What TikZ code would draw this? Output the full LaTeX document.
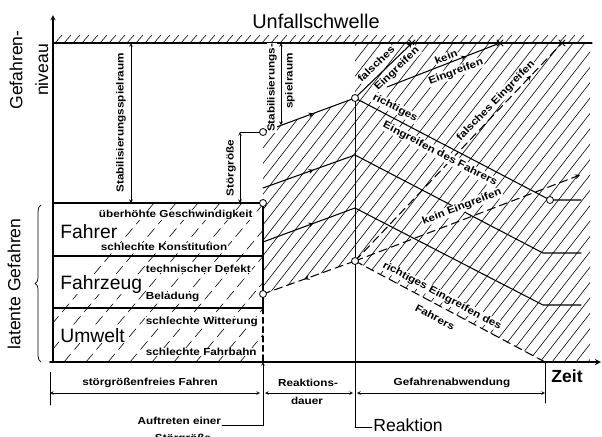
\documentclass[tikz,border=0pt]{standalone}
\usepackage{fontspec}
\setmainfont{Liberation Sans}
\newfontfamily\lblfont[FakeStretch=1.15]{Liberation Sans}
\newcommand\bigfont{\fontsize{16.5}{22}\selectfont}
\newcommand\midfont{\fontsize{15}{22}\selectfont}
\usetikzlibrary{decorations.markings,decorations.pathreplacing}
\begin{document}
\begin{tikzpicture}[x=0.03cm,y=-0.03cm,>=stealth,line join=round,line cap=round,
  lbl/.style={font=\lblfont\bfseries\fontsize{8.7}{10}\selectfont,inner sep=.6pt},
  bigtext/.style={font=\bigfont,inner sep=1pt},
  midtext/.style={font=\midfont,inner sep=1pt},
  bg/.style={fill=white},
  hatch/.style={line width=.5pt},
  boxhatch/.style={line width=.5pt,dash pattern=on 9pt off 5pt},
  curve/.style={line width=.9pt},
  dashedcurve/.style={line width=.9pt,dash pattern=on 7pt off 4pt},
  knot/.style={circle,draw,line width=.7pt,fill=white,inner sep=0pt,minimum size=2.1mm},
  midarrow/.style={postaction={decorate},decoration={markings,mark=at position #1 with {\arrow{stealth}}}},
  midarrow/.default=.55]
\useasboundingbox (0,0) rectangle (602,436);
% points
\coordinate (O) at (53,362);
\coordinate (ya) at (53,15);
\coordinate (xs) at (50,362);
\coordinate (xa) at (601,362);
\coordinate (S0) at (263,203);
\coordinate (S1) at (263,132);
\coordinate (L2a) at (263,188);
\coordinate (L3a) at (263,242);
\coordinate (S3) at (263,294);
\coordinate (T0) at (263,362);
\coordinate (R1) at (355,98);
\coordinate (R2) at (355,155);
\coordinate (R3) at (355,208);
\coordinate (R4) at (355,261);
\coordinate (X1) at (412,43);
\coordinate (X2) at (500,43);
\coordinate (X3) at (562,43);
\coordinate (K0) at (387,87);
\coordinate (K1) at (580,175);
\coordinate (E1) at (550,200);
\coordinate (E1r) at (581,200);
\coordinate (E2) at (543,253);
\coordinate (E2r) at (581,253);
\coordinate (E3) at (543,305);
\coordinate (E3r) at (581,305);
\coordinate (G) at (545,362);
% hatching
\begin{scope}
\clip (S1) -- (R1) -- (355,43) -- (590,43) -- (590,362) -- (G) -- (R4) -- (S3) -- cycle;
\foreach \c in {0,12,...,612} \draw[hatch] (\c,362) -- (\c+249,43);
\end{scope}
\begin{scope}
\clip (53,203) rectangle (263,362);
\foreach \c in {20,42,...,280} \draw[boxhatch] (\c,362) -- (\c+134,203);
\end{scope}
\foreach \t in {55,64,...,585} \draw[hatch] (\t,43) -- (\t+7,35);
% axes and threshold
\draw[line width=1.1pt] (53,43) -- (592,43);
\draw[->,line width=1pt] (O) -- (ya);
\draw[->,line width=1.3pt] (xs) -- (xa);
% latent dangers box
\draw[line width=1pt] (O) |- (S0) -- (263,308);
\draw[line width=1pt] (53,256) -- (263,256) (53,308) -- (263,308);
\draw[line width=.9pt,dash pattern=on 5pt off 3pt] (263,308) -- (T0);
% margins
\draw[<->,thin] (131,43) -- (131,203);
\draw[<->,thin] (240,132) -- (240,203);
\draw[thin] (240,132) -- (S1);
\draw[<->,thin] (281,43) -- (281,125);
% lines up to the reaction
\draw[curve,midarrow] (S1) -- (R1);
\draw[curve,midarrow] (L2a) -- (R2);
\draw[curve,midarrow] (L3a) -- (R3);
\draw[dashedcurve,midarrow=.55] (R4) -- (S3);
\draw[line width=.8pt] (R1) -- (355,427);
% after the reaction
\draw[curve,->] (R1) -- (X1);
\draw[curve,midarrow=.7] (K0) -- (X2);
\draw[dashedcurve,midarrow=.85] (R4) -- (X3);
\draw[dashedcurve,->] (R4) -- (K1);
\draw[curve] (R1) -- (E1) -- (E1r);
\draw[curve] (R2) -- (E2) -- (E2r);
\draw[curve] (R3) -- (E3) -- (E3r);
\draw[dashedcurve] (R4) -- (G);
\foreach \p in {X1,X2,X3} \draw[line width=.8pt] (\p) +(-3,-3) -- +(3,3) +(-3,3) -- +(3,-3);
% brace
\draw[decorate,decoration={brace,amplitude=5pt},line width=.6pt] (41,362) -- (41,205);
% texts
\node[font=\fontsize{17}{20}\selectfont,inner sep=1pt] (unf) at (316,21) {Unfallschwelle};
\node[midtext,rotate=90,align=center] (niv) at (29,70) {Gefahren-\\niveau};
\node[midtext,rotate=90] (lat) at (14,284) {latente Gefahren};
\node[bigtext,bg,anchor=base west] (fahrer) at (59,238) {Fahrer};
\node[bigtext,bg,anchor=base west] (fzg) at (59,289) {Fahrzeug};
\node[bigtext,bg,anchor=base west] (umw) at (59,342) {Umwelt};
\node[lbl,bg,anchor=west] (ueb) at (98,215) {überhöhte Geschwindigkeit};
\node[lbl,bg,anchor=west] (kon) at (100,247) {schlechte Konstitution};
\node[lbl,bg,anchor=west] (def) at (145,269) {technischer Defekt};
\node[lbl,bg,anchor=west] (bel) at (145,297) {Beladung};
\node[lbl,bg,anchor=west] (wit) at (145,322) {schlechte Witterung};
\node[lbl,bg,anchor=west] (fbn) at (145,352) {schlechte Fahrbahn};
\node[lbl,bg,rotate=90] (stab) at (121,123) {Stabilisierungsspielraum};
\node[lbl,bg,rotate=90] (stoer) at (231,168) {Störgröße};
\node[lbl,bg,rotate=90] (stab2) at (272,88) {Stabilisierungs-};
\node[lbl,bg,rotate=90] (spiel) at (290,81) {spielraum};
\node[lbl,bg,rotate=44] (fa1) at (376,64) {falsches};
\node[lbl,bg,rotate=44] (fa2) at (397,69) {Eingreifen};
\node[lbl,bg,rotate=21] (ke1) at (446,57) {kein};
\node[lbl,bg,rotate=21] (ke2) at (456,72) {Eingreifen};
\node[lbl,bg,rotate=-27.5] (ri1) at (395,108) {richtiges};
\node[lbl,bg,rotate=-27.5] (ri2) at (440,154) {Eingreifen des Fahrers};
\node[lbl,bg,rotate=46] (fa3) at (496,101) {falsches Eingreifen};
\node[lbl,bg,rotate=21] (ke3) at (462,207) {kein Eingreifen};
\node[lbl,bg,rotate=-28] (ri3) at (442,296) {richtiges Eingreifen des};
\node[lbl,bg,rotate=-28] (ri4) at (435,317) {Fahrers};
% time axis
\node[font=\bfseries\fontsize{15}{18}\selectfont,inner sep=1pt] (zeit) at (567,376) {Zeit};
\coordinate (dA) at (50,393);
\coordinate (dB) at (260,393);
\coordinate (dC) at (265,393);
\coordinate (dD) at (353,393);
\coordinate (dE) at (357,393);
\coordinate (dF) at (545,393);
\draw[thin] (50,372) -- (50,405);
\draw[thin] (G) -- (545,403);
\draw[<->,thin] (dA) -- (dB);
\draw[<->,thin] (dC) -- (dD);
\draw[<->,thin] (dE) -- (dF);
\node[lbl] (frei) at (150,383) {störgrößenfreies Fahren};
\node[lbl] (rd1) at (308,383) {Reaktions-};
\node[lbl] (rd2) at (307,401) {dauer};
\node[lbl] (abw) at (452,383) {Gefahrenabwendung};
\node[lbl,anchor=east] (auf) at (222,421) {Auftreten einer};
\node[lbl] (auf2) at (183,439) {Störgröße};
\draw[->,thin] (auf.south east) -| (T0);
\node[midtext,anchor=west] (reak) at (372,425) {Reaktion};
\draw[line width=.8pt] (355,427) -- (reak.west |- 0,427);
% knots
\foreach \p in {S1,S0,S3,R1,R4,E1} \node[knot] at (\p) {};
\end{tikzpicture}
\end{document}
